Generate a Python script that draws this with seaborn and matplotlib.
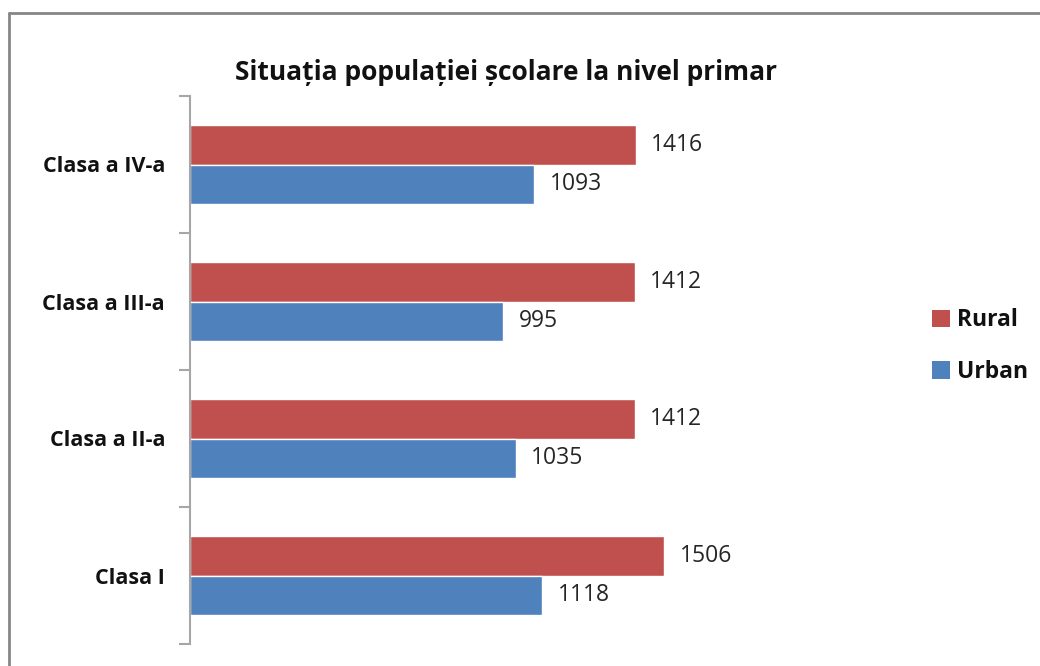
import numpy as np
import pandas as pd
import matplotlib
matplotlib.use('Agg')
import matplotlib.pyplot as plt
import seaborn as sns
from matplotlib.lines import Line2D
from matplotlib.patches import Patch

categories = ['Clasa a IV-a', 'Clasa a III-a', 'Clasa a II-a', 'Clasa I']
rural = [1416, 1412, 1412, 1506]
urban = [1093, 995, 1035, 1118]
series = ['Rural', 'Urban']
colors = ['#C0504D', '#4F81BD']
title = 'Situația populației școlare la nivel primar'

df = pd.DataFrame({
    'clasa': categories * 2,
    'elevi': rural + urban,
    'mediu': ['Rural'] * len(categories) + ['Urban'] * len(categories),
})

sns.set_theme(style='white')
plt.rcParams['font.family'] = ['Open Sans', 'DejaVu Sans']

fig = plt.figure(figsize=(10.4, 6.66), dpi=100)
ax = fig.add_axes([190 / 1040, 22 / 666, 504 / 1040, 548 / 666])

sns.barplot(data=df, y='clasa', x='elevi', hue='mediu', order=categories,
            hue_order=series, palette=colors, width=0.57, saturation=1,
            orient='h', ax=ax, legend=False)

# etichete cu valorile la capatul barelor
for cont in ax.containers:
    ax.bar_label(cont, padding=11, fontsize=16.5, color='#262626')

ax.set_xlim(0, 1600)
ax.set_ylim(len(categories) - 0.5, -0.5)
ax.set_xlabel('')
ax.set_ylabel('')
ax.xaxis.set_visible(False)
for s in ['top', 'right', 'bottom']:
    ax.spines[s].set_visible(False)
ax.spines['left'].set_color('#A6A6A6')
ax.spines['left'].set_linewidth(1.5)

# ticks intre categorii, etichetele la mijloc
ax.set_yticks(range(len(categories)))
ax.set_yticklabels(categories, fontsize=15.5, fontweight='bold', color='#111111')
ax.set_yticks(np.arange(-0.5, len(categories), 1), minor=True)
ax.tick_params(axis='y', which='major', length=0, pad=18)
ax.tick_params(axis='y', which='minor', length=8, width=1.5, color='#A6A6A6', left=True)

fig.text(506 / 1040, 1 - 73 / 666, title, ha='center', va='center',
         fontsize=19, fontweight='bold', color='#111111')

handles = [Patch(facecolor=c, edgecolor='none') for c in colors]
fig.legend(handles, series, loc='center left', bbox_to_anchor=(911 / 1040, 1 - 346 / 666),
           frameon=False, prop={'weight': 'bold', 'size': 16.5}, handlelength=0.8,
           handleheight=0.8, handletextpad=0.3, labelspacing=1.2, labelcolor='#111111')

# chenarul graficului (doar stanga si sus sunt vizibile)
fig.add_artist(Line2D([9 / 1040, 9 / 1040], [0, 1 - 13 / 666], transform=fig.transFigure,
                      color='#868686', lw=2))
fig.add_artist(Line2D([9 / 1040, 1], [1 - 13 / 666, 1 - 13 / 666], transform=fig.transFigure,
                      color='#868686', lw=2))

fig.savefig('out.png', dpi=100)
